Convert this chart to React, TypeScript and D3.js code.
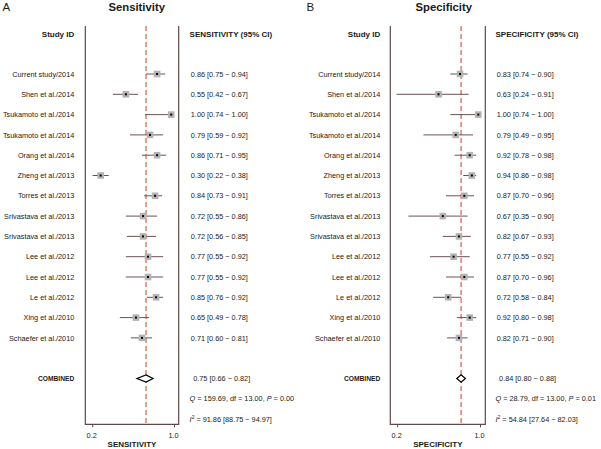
import React from 'react';
import * as d3 from 'd3';

const studies = [
  'Current study/2014', 'Shen et al./2014', 'Tsukamoto et al./2014', 'Tsukamoto et al./2014',
  'Orang et al./2014', 'Zheng et al./2013', 'Torres et al./2013', 'Srivastava et al./2013',
  'Srivastava et al./2013', 'Lee et al./2012', 'Lee et al./2012', 'Le et al./2012',
  'Xing et al./2010', 'Schaefer et al./2010',
];
const sensEst = [0.86, 0.55, 1.00, 0.79, 0.86, 0.30, 0.84, 0.72, 0.72, 0.77, 0.77, 0.85, 0.65, 0.71];
const sensLo = [0.75, 0.42, 0.74, 0.59, 0.71, 0.22, 0.73, 0.55, 0.56, 0.55, 0.55, 0.76, 0.49, 0.60];
const sensHi = [0.94, 0.67, 1.00, 0.92, 0.95, 0.38, 0.91, 0.86, 0.85, 0.92, 0.92, 0.92, 0.78, 0.81];
const specEst = [0.83, 0.63, 1.00, 0.79, 0.92, 0.94, 0.87, 0.67, 0.82, 0.77, 0.87, 0.72, 0.92, 0.82];
const specLo = [0.74, 0.24, 0.74, 0.49, 0.78, 0.86, 0.70, 0.35, 0.67, 0.55, 0.70, 0.58, 0.80, 0.71];
const specHi = [0.90, 0.91, 1.00, 0.95, 0.98, 0.98, 0.96, 0.90, 0.93, 0.92, 0.96, 0.84, 0.98, 0.90];
const sensCombined = [0.75, 0.66, 0.82];
const specCombined = [0.84, 0.80, 0.88];
const sensHet = [159.69, 13.0, 0.0];
const specHet = [28.79, 13.0, 0.01];
const sensI2 = [91.86, 88.75, 94.97];
const specI2 = [54.84, 27.64, 82.03];
const tickValues = [0.2, 1.0];

const FONT = "'Liberation Sans', Arial, sans-serif";
const f2 = d3.format('.2f');
const rowY = d3.scaleLinear().domain([0, 17]).range([74, 74 + 17 * 20.3]);

interface PanelCfg {
  letter: string; title: string; header: string; axisLabel: string;
  est: number[]; lo: number[]; hi: number[]; combined: number[]; het: number[]; i2: number[];
  labelRight: number; frame: [number, number]; dataRange: [number, number]; tickRange: [number, number];
  valuesX: number; titleX: number; letterX: number;
}

const FRAME_TOP = 26;
const FRAME_BOTTOM = 424.3;
const LINE_COL = '#5e4a4a';
const TEXT_COL = '#1a1a1a';

function Panel({ c }: { c: PanelCfg }) {
  const x = d3.scaleLinear().domain([0.2, 1.0]).range(c.dataRange);
  const xt = d3.scaleLinear().domain([0.2, 1.0]).range(c.tickRange);
  const yc = rowY(15);
  const dw = 3.6;
  const diamond = `M${x(c.combined[1])},${yc} L${x(c.combined[0])},${yc - dw} L${x(c.combined[2])},${yc} L${x(c.combined[0])},${yc + dw} Z`;
  const sq = 6.6;
  return (
    <g fontFamily={FONT} fill={TEXT_COL} opacity={0.999}>
      <text x={c.letterX} y={11} fontSize={11.5}>{c.letter}</text>
      <text x={c.titleX} y={10.5} fontSize={11.3} fontWeight="bold" textAnchor="middle">{c.title}</text>
      <text x={c.labelRight} y={36.5} fontSize={8} fontWeight="bold" textAnchor="end">Study ID</text>
      <text x={c.valuesX - 1.2} y={36.5} fontSize={8} fontWeight="bold">{c.header}</text>
      {/* frame */}
      <path d={`M${c.frame[0]},${FRAME_TOP} V${FRAME_BOTTOM} H${c.frame[1]} V${FRAME_TOP}`} fill="none" stroke={LINE_COL} strokeWidth={1.2} />
      {tickValues.map((t) => (
        <g key={t}>
          <line x1={xt(t)} x2={xt(t)} y1={FRAME_BOTTOM} y2={FRAME_BOTTOM + 3} stroke={LINE_COL} strokeWidth={1} />
          <text x={xt(t) - 1} y={437.8} fontSize={7.3} textAnchor="middle">{t.toFixed(1)}</text>
        </g>
      ))}
      <text x={(c.frame[0] + c.frame[1]) / 2} y={446.5} fontSize={8} fontWeight="bold" textAnchor="middle">{c.axisLabel}</text>
      {/* reference line */}
      <line x1={x(c.combined[0])} x2={x(c.combined[0])} y1={FRAME_TOP} y2={FRAME_BOTTOM} stroke="#d6603e" strokeWidth={1.2} strokeDasharray="5,3" />
      {studies.map((s, i) => {
        const y = rowY(i);
        return (
          <g key={i}>
            <text x={c.labelRight} y={y + 2.6} fontSize={7.3} textAnchor="end">{s}</text>
            <line x1={x(c.lo[i])} x2={x(c.hi[i])} y1={y} y2={y} stroke="#6a5252" strokeWidth={1} />
            <rect x={x(c.est[i]) - sq / 2} y={y - sq / 2} width={sq} height={sq} fill="#b3b3b3" />
            <rect x={x(c.est[i]) - 1} y={y - 1} width={2} height={2} fill="#000" />
            <text x={c.valuesX} y={y + 2.6} fontSize={7.3}>{`${f2(c.est[i])} [${f2(c.lo[i])} \u2212 ${f2(c.hi[i])}]`}</text>
          </g>
        );
      })}
      <text x={c.labelRight} y={yc + 2.5} fontSize={6.7} fontWeight="bold" textAnchor="end">COMBINED</text>
      <path d={diamond} fill="#fff" stroke="#000" strokeWidth={1.2} />
      <text x={c.valuesX + 2.4} y={yc + 2.6} fontSize={7.3}>{`${f2(c.combined[0])} [${f2(c.combined[1])} \u2212 ${f2(c.combined[2])}]`}</text>
      <text x={c.valuesX - 1.2} y={rowY(16) + 2.6} fontSize={7.3}>
        <tspan fontStyle="italic">Q</tspan>
        {` = ${f2(c.het[0])}, df = ${f2(c.het[1])}, `}
        <tspan fontStyle="italic">P</tspan>
        {` = ${f2(c.het[2])}`}
      </text>
      <text x={c.valuesX - 1.2} y={rowY(17) + 2.6} fontSize={7.3}>
        <tspan fontStyle="italic">I</tspan>
        <tspan fontSize={5} dy={-3}>2</tspan>
        <tspan dy={3}>{` = ${f2(c.i2[0])} [${f2(c.i2[1])} \u2212 ${f2(c.i2[2])}]`}</tspan>
      </text>
    </g>
  );
}

const panelA: PanelCfg = {
  letter: 'A', title: 'Sensitivity', header: 'SENSITIVITY (95% CI)', axisLabel: 'SENSITIVITY',
  est: sensEst, lo: sensLo, hi: sensHi, combined: sensCombined, het: sensHet, i2: sensI2,
  labelRight: 74.3, frame: [85.3, 178.7], dataRange: [90.6, 171.2], tickRange: [92.7, 174.5],
  valuesX: 190.8, titleX: 136.7, letterX: 2.5,
};
const panelB: PanelCfg = {
  letter: 'B', title: 'Specificity', header: 'SPECIFICITY (95% CI)', axisLabel: 'SPECIFICITY',
  est: specEst, lo: specLo, hi: specHi, combined: specCombined, het: specHet, i2: specI2,
  labelRight: 380.3, frame: [390.3, 485.3], dataRange: [392.3, 478.3], tickRange: [397.7, 480.5],
  valuesX: 496.7, titleX: 443.8, letterX: 306.5,
};

export default function App() {
  return (
    <svg width={601} height={449} style={{ position: 'absolute', left: 0, top: 0, background: '#fff' }}>
      <rect width={601} height={449} fill="#fff" />
      <Panel c={panelA} />
      <Panel c={panelB} />
    </svg>
  );
}
